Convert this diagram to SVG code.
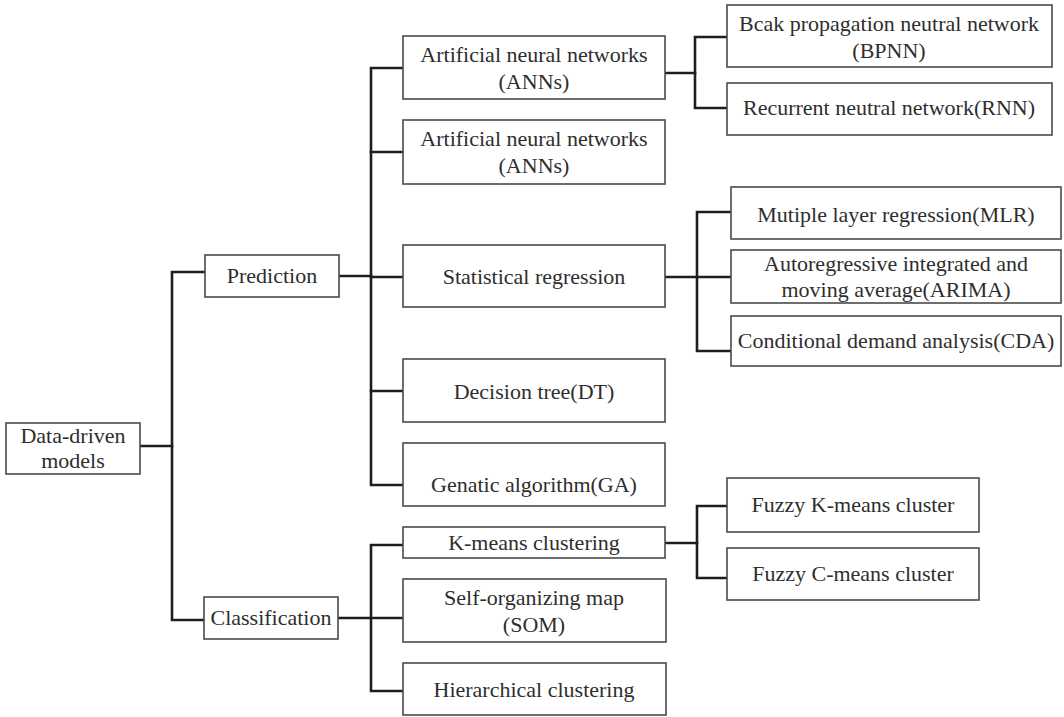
<svg xmlns="http://www.w3.org/2000/svg" width="1064" height="717" viewBox="0 0 1064 717">
  <style>
    .box { fill: #ffffff; stroke: #4a4a4a; stroke-width: 1.6; }
    .lbl { font-family: "Liberation Serif", "Times New Roman", serif; font-size: 22px; fill: #2e2e2e; text-anchor: middle; }
    .link { fill: none; stroke: #1e1e1e; stroke-width: 2.6; stroke-linejoin: miter; stroke-linecap: square; }
  </style>
  <rect width="1064" height="717" fill="#ffffff"/>

  <!-- tree connectors -->
  <g id="connectors" class="link">
    <!-- root -->
    <path d="M140 446 H172"/>
    <path d="M205 272 H172 V620 H204"/>
    <!-- prediction branch -->
    <path d="M339 276 H371"/>
    <path d="M403 68 H371 V485 H403"/>
    <path d="M371 152 H403"/>
    <path d="M371 277 H403"/>
    <path d="M371 391 H403"/>
    <!-- ANN sub-branch -->
    <path d="M665 73 H695"/>
    <path d="M727 37 H695 V108 H727"/>
    <!-- regression sub-branch -->
    <path d="M665 277 H731"/>
    <path d="M731 212 H697 V351 H731"/>
    <!-- classification branch -->
    <path d="M338 618 H403"/>
    <path d="M403 545 H371 V691 H403"/>
    <!-- k-means sub-branch -->
    <path d="M665 543 H697"/>
    <path d="M727 506 H697 V578 H727"/>
  </g>

  <g id="data-driven">
    <rect class="box" x="6" y="423" width="134" height="51"/>
    <text class="lbl" x="73" y="443">Data-driven</text>
    <text class="lbl" x="73" y="468">models</text>
  </g>

  <g id="prediction">
    <rect class="box" x="205" y="255" width="134" height="42"/>
    <text class="lbl" x="272" y="283">Prediction</text>
  </g>

  <g id="classification">
    <rect class="box" x="204" y="597" width="134" height="42"/>
    <text class="lbl" x="271" y="625">Classification</text>
  </g>

  <g id="ann-1">
    <rect class="box" x="403" y="36" width="262" height="63"/>
    <text class="lbl" x="534" y="62">Artificial neural networks</text>
    <text class="lbl" x="534" y="89">(ANNs)</text>
  </g>

  <g id="ann-2">
    <rect class="box" x="403" y="120" width="262" height="64"/>
    <text class="lbl" x="534" y="146">Artificial neural networks</text>
    <text class="lbl" x="534" y="173">(ANNs)</text>
  </g>

  <g id="statistical-regression">
    <rect class="box" x="403" y="245" width="262" height="62"/>
    <text class="lbl" x="534" y="284">Statistical regression</text>
  </g>

  <g id="decision-tree">
    <rect class="box" x="403" y="359" width="262" height="63"/>
    <text class="lbl" x="534" y="399">Decision tree(DT)</text>
  </g>

  <g id="genetic-algorithm">
    <rect class="box" x="403" y="443" width="262" height="63"/>
    <text class="lbl" x="534" y="492">Genatic algorithm(GA)</text>
  </g>

  <g id="k-means">
    <rect class="box" x="403" y="527" width="262" height="31"/>
    <text class="lbl" x="534" y="550">K-means clustering</text>
  </g>

  <g id="som">
    <rect class="box" x="403" y="579" width="263" height="63"/>
    <text class="lbl" x="534" y="605">Self-organizing map</text>
    <text class="lbl" x="534" y="632">(SOM)</text>
  </g>

  <g id="hierarchical">
    <rect class="box" x="403" y="663" width="263" height="52"/>
    <text class="lbl" x="534" y="697">Hierarchical clustering</text>
  </g>

  <g id="bpnn">
    <rect class="box" x="727" y="5" width="325" height="62"/>
    <text class="lbl" x="889" y="31">Bcak propagation neutral network</text>
    <text class="lbl" x="889" y="58">(BPNN)</text>
  </g>

  <g id="rnn">
    <rect class="box" x="727" y="83" width="325" height="52"/>
    <text class="lbl" x="889" y="115">Recurrent neutral network(RNN)</text>
  </g>

  <g id="mlr">
    <rect class="box" x="731" y="187" width="330" height="52"/>
    <text class="lbl" x="896" y="222">Mutiple layer regression(MLR)</text>
  </g>

  <g id="arima">
    <rect class="box" x="731" y="250" width="330" height="53"/>
    <text class="lbl" x="896" y="271">Autoregressive integrated and</text>
    <text class="lbl" x="896" y="297">moving average(ARIMA)</text>
  </g>

  <g id="cda">
    <rect class="box" x="731" y="316" width="330" height="50"/>
    <text class="lbl" x="896" y="348">Conditional demand analysis(CDA)</text>
  </g>

  <g id="fuzzy-k-means">
    <rect class="box" x="727" y="478" width="252" height="54"/>
    <text class="lbl" x="853" y="512">Fuzzy K-means cluster</text>
  </g>

  <g id="fuzzy-c-means">
    <rect class="box" x="727" y="548" width="252" height="52"/>
    <text class="lbl" x="853" y="581">Fuzzy C-means cluster</text>
  </g>
</svg>
